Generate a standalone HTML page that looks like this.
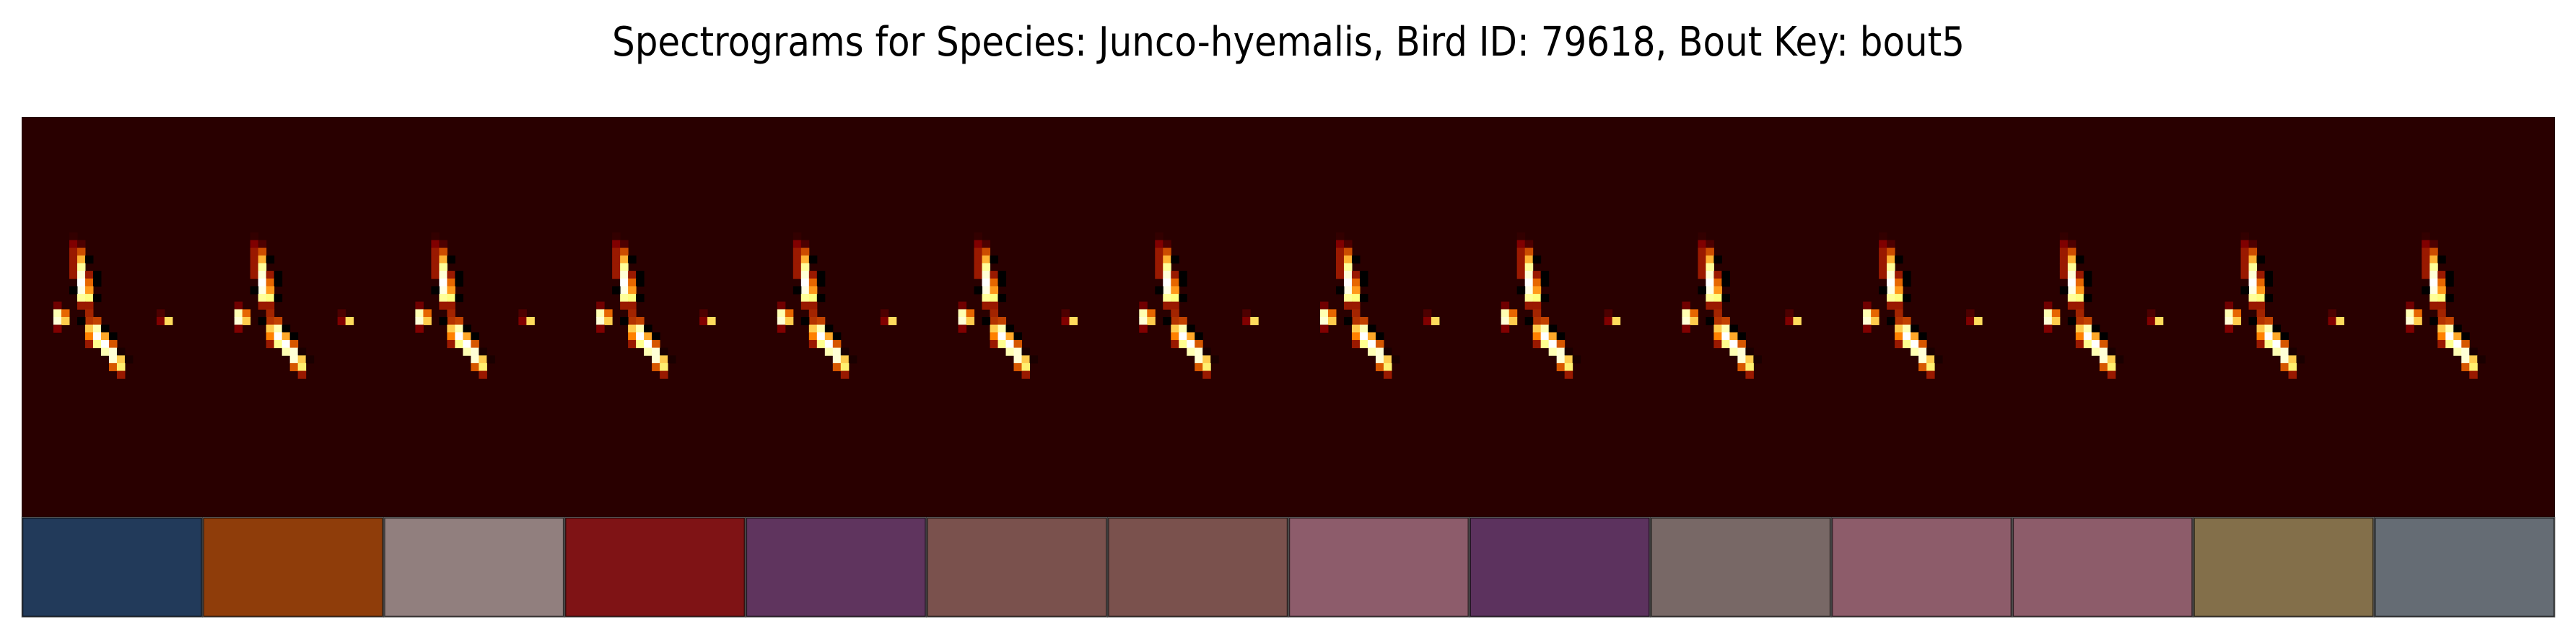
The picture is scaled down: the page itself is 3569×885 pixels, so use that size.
<!DOCTYPE html>
<html><head><meta charset="utf-8"><style>
html,body{margin:0;padding:0;background:#fff;}
svg{display:block;}
</style></head><body>
<svg id="chart" width="3569" height="885" viewBox="0 0 3569 885" xmlns="http://www.w3.org/2000/svg">
<text x="848" y="77" textLength="1874" lengthAdjust="spacingAndGlyphs" font-family="DejaVu Sans, Liberation Sans, sans-serif" font-size="56" fill="#000">Spectrograms for Species: Junco-hyemalis, Bird ID: 79618, Bout Key: bout5</text>
<rect x="30" y="162" width="3510" height="554" fill="#290000"/>
<g id="cells"></g>
<g id="boxes"></g>
</svg>
<script>
// number of segments and their label colors
const segmentColors = ["#223a5a","#8f3d0a","#917f7e","#7f1315","#5f345e","#7a514d","#7a514d","#8d5c6b","#5c325e","#786866","#8d5c6a","#8d5c6a","#836f4a","#656c74"];
// syllable template: [col, row, intensity]
const syllableCells = [
[2,-1,0.1],[2,0,0.25],[3,0,0.15],[2,1,0.3],[3,1,0.4],[2,2,0.3],[3,2,0.6],[4,2,0],
[2,3,0.3],[3,3,0.8],[2,4,0.3],[3,4,0.92],[4,4,0.3],[5,4,0],[3,5,1.0],[4,5,0.45],[5,5,0],
[3,6,0.95],[4,6,0.55],[2,6,0],[3,7,0.8],[4,7,0.75],[5,7,0],[0,8,0.22],[3,8,0.3],[4,8,0.3],
[0,9,0.85],[1,9,0.45],[4,9,0.32],[0,10,0.92],[1,10,0.65],[4,10,0.35],[5,10,0.38],[3,10,0],
[0,11,0.25],[4,11,0.65],[5,11,0.85],[6,11,0],[4,12,0.5],[5,12,1.0],[6,12,0.58],[7,12,0],
[4,13,0.3],[5,13,0.78],[6,13,1.0],[7,13,0.42],[6,14,0.85],[7,14,0.92],[8,14,0.05],
[7,15,0.92],[8,15,0.65],[9,15,0.05],[7,16,0.42],[8,16,0.72],[8,17,0.3],
[13,9,0.15],[13,10,0.25],[14,10,0.68]
];
const plotLeft=30, plotTop=162, plotWidth=3510, specHeight=554, boxHeight=139;
const colsPerSeg=22.8, rowsTotal=52;
const segW=plotWidth/segmentColors.length;
const colW=segW/colsPerSeg, rowH=specHeight/rowsTotal;
const startCol=4, startRow=16;
function xOf(seg,c){return plotLeft+seg*segW+(startCol+c)*colW;}
function yOf(r){return plotTop+(startRow+r)*rowH;}
function afmhot(v){
  const cl=x=>Math.max(0,Math.min(1,x));
  const r=cl(2*v),g=cl(2*v-0.5),b=cl(2*v-1);
  return `rgb(${Math.round(r*255)},${Math.round(g*255)},${Math.round(b*255)})`;
}
const NS="http://www.w3.org/2000/svg";
const cellsG=document.getElementById('cells');
const boxesG=document.getElementById('boxes');
segmentColors.forEach((col,s)=>{
  syllableCells.forEach(([c,r,v])=>{
    if(s===segmentColors.length-1 && c>=13) return;
    const el=document.createElementNS(NS,'rect');
    
    
    el.setAttribute('x',xOf(s,c).toFixed(2));
    el.setAttribute('y',yOf(r).toFixed(2));
    el.setAttribute('width',(colW+0.5).toFixed(2));
    el.setAttribute('height',(rowH+0.5).toFixed(2));
    el.setAttribute('fill',afmhot(v));
    cellsG.appendChild(el);
  });
  const b=document.createElementNS(NS,'rect');
  
  
  b.setAttribute('x',(plotLeft+s*segW+1).toFixed(2));
  b.setAttribute('y',plotTop+specHeight+1);
  b.setAttribute('width',(segW-2).toFixed(2));
  b.setAttribute('height',boxHeight-2);
  b.setAttribute('fill',col);
  b.setAttribute('stroke','rgba(0,0,0,0.65)');
  b.setAttribute('stroke-width','2.5');
  boxesG.appendChild(b);
});
</script>
</body></html>
